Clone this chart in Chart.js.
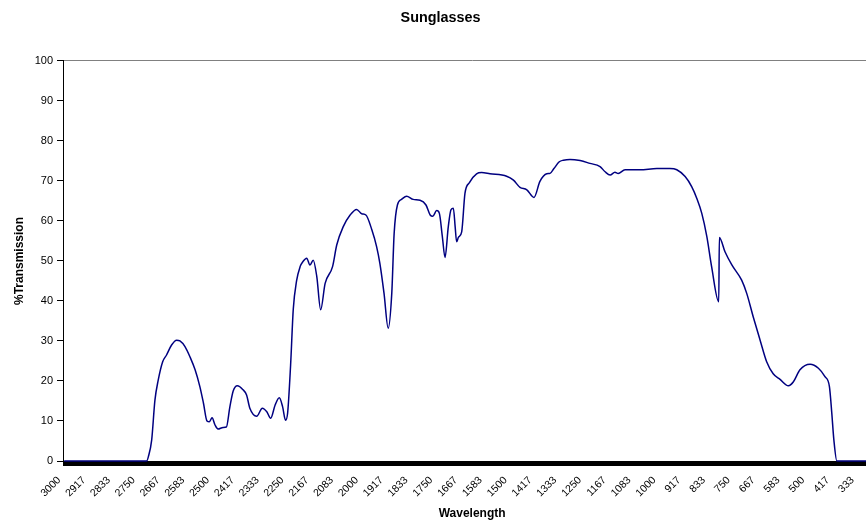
<!DOCTYPE html>
<html>
<head>
<meta charset="utf-8">
<title>Sunglasses</title>
<script src="https://cdn.jsdelivr.net/npm/chart.js@4/dist/chart.umd.min.js"></script>
<style>
  html, body { margin: 0; padding: 0; background: #fff; overflow: hidden; }
  #wrap { width: 886px; height: 524px; }
</style>
</head>
<body>
<div id="wrap"><canvas id="c" width="886" height="524"></canvas></div>
<script>
// Transmission spectrum of a sunglasses lens (wavelength in nm, % transmission)
const wavelength = [
  3000, 2723, 2717, 2706, 2695, 2684, 2669, 2656, 2639, 2622, 2611, 2594, 2577, 2560,
  2544, 2532, 2520, 2512, 2503, 2493, 2483, 2466, 2455, 2443, 2432, 2418, 2400, 2387,
  2376, 2353, 2334, 2319, 2306, 2291, 2277, 2266, 2256, 2249, 2239, 2230, 2219, 2207,
  2198, 2185, 2174, 2163, 2151, 2138, 2123, 2098, 2084, 2062, 2039, 2017, 2000, 1986,
  1966, 1950, 1939, 1925, 1911, 1899, 1891, 1880, 1866, 1849, 1827, 1804, 1784, 1770,
  1761, 1748, 1739, 1729, 1720, 1709, 1700, 1692, 1686, 1681, 1675, 1664, 1653, 1638,
  1614, 1597, 1569, 1513, 1490, 1468, 1445, 1421, 1401, 1378, 1367, 1354, 1336, 1322,
  1300, 1266, 1233, 1199, 1182, 1165, 1149, 1138, 1115, 1065, 1008, 964, 941, 913,
  891, 874, 857, 840, 824, 800, 798, 779, 756, 723, 706, 684, 661, 639,
  617, 594, 566, 549, 527, 493, 465, 443, 428, 420, 413, 403, 258
];
const transmission = [
  0, 0, 1.1, 5.2, 15.2, 20.2, 24.8, 26.5, 29, 30.2, 30, 28.6, 26, 22.8,
  18.6, 14.5, 10, 9.8, 10.8, 9, 8, 8.4, 8.5, 13.6, 17.5, 18.8, 17.9, 16.5,
  13.2, 11.2, 13.2, 12.3, 10.7, 14, 15.8, 13.6, 10.2, 12, 24, 38, 45, 48.6,
  49.8, 50.7, 49, 50.2, 46.1, 37.8, 44.4, 48.6, 54, 58.6, 61.5, 62.9, 61.8, 61.5,
  57.8, 53.6, 49.4, 41.9, 33.2, 41.9, 56.9, 64, 65.4, 66.2, 65.4, 65.2, 64, 61.5,
  61.2, 62.6, 61.9, 56.1, 50.9, 58.6, 62.8, 63.2, 58.6, 54.8, 55.9, 57.3, 66.9, 69.6,
  71.8, 72.1, 71.8, 71.2, 70.2, 68.4, 67.8, 65.9, 69.9, 71.8, 71.9, 73.1, 74.8, 75.2,
  75.4, 75.1, 74.4, 73.6, 72.3, 71.5, 72.2, 71.9, 72.8, 72.8, 73.1, 73.1, 72.8, 71.1,
  68.6, 65.7, 61.9, 56.1, 48.6, 39.8, 55.9, 52.3, 49, 45.2, 41.9, 36, 30.2, 24.8,
  21.8, 20.4, 18.8, 19.8, 22.8, 24.2, 23.2, 21.1, 18.6, 11.9, 5.2, 0, 0
];

// Category-style labels shown every tenth sample step along the wavelength axis
const tickLabels = [
  3000, 2917, 2833, 2750, 2667, 2583, 2500, 2417, 2333, 2250, 2167, 2083, 2000, 1917,
  1833, 1750, 1667, 1583, 1500, 1417, 1333, 1250, 1167, 1083, 1000, 917, 833, 750,
  667, 583, 500, 417, 333
];
const yTicks = [0, 10, 20, 30, 40, 50, 60, 70, 80, 90, 100];

const sampleStep = 25 / 3;   // nm between sample ticks
const labelEvery = 10;       // one label per ten ticks
const startWl = 3000;

const points = wavelength.map((w, i) => ({ x: w, y: transmission[i] }));

const FONT = '"Liberation Sans", Arial, Helvetica, sans-serif';

new Chart(document.getElementById('c'), {
  type: 'line',
  data: {
    datasets: [{
      data: points,
      borderColor: '#000080',
      borderWidth: 1.5,
      pointRadius: 0,
      pointHoverRadius: 0,
      fill: false,
      cubicInterpolationMode: 'monotone',
      clip: false
    }]
  },
  options: {
    responsive: false,
    animation: false,
    devicePixelRatio: 1,
    layout: { padding: { left: 0, right: 4.8, top: 0, bottom: 0 } },
    plugins: {
      legend: { display: false },
      tooltip: { enabled: false },
      title: {
        display: true,
        text: 'Sunglasses',
        color: '#000',
        font: { family: FONT, size: 14.4, weight: 'bold' },
        padding: { top: 9, bottom: 34.7 }
      }
    },
    scales: {
      x: {
        type: 'linear',
        reverse: true,
        min: 254,
        max: 3004,
        afterBuildTicks: (axis) => {
          const t = [];
          for (let k = 0; startWl - k * sampleStep >= axis.min; k++) {
            t.push({ value: startWl - k * sampleStep });
          }
          axis.ticks = t;
        },
        afterFit: (s) => {
          s.height = 63;
          s.paddingLeft = 0;
          s.paddingRight = 0;
        },
        ticks: {
          autoSkip: false,
          minRotation: 45,
          maxRotation: 45,
          padding: 8,
          labelOffset: -5,
          color: '#000',
          font: { family: FONT, size: 10.5 },
          callback: (v, i) => (i % labelEvery === 0 && tickLabels[i / labelEvery] !== undefined)
            ? String(tickLabels[i / labelEvery]) : ''
        },
        grid: {
          drawOnChartArea: false,
          drawTicks: true,
          tickLength: 5,
          tickColor: '#000',
          lineWidth: 3
        },
        border: { display: true, color: '#000', width: 1 },
        title: {
          display: true,
          text: 'Wavelength',
          color: '#000',
          font: { family: FONT, size: 12, weight: 'bold' },
          padding: { top: 0, bottom: 3 }
        }
      },
      y: {
        min: 0,
        max: 100,
        afterBuildTicks: (axis) => { axis.ticks = yTicks.map(v => ({ value: v })); },
        afterFit: (s) => { s.width = 63; },
        ticks: {
          padding: 4,
          color: '#000',
          font: { family: FONT, size: 11 }
        },
        grid: {
          drawOnChartArea: true,
          color: (ctx) => (ctx.tick && ctx.tick.value === 100) ? '#808080' : 'rgba(0,0,0,0)',
          tickColor: '#000',
          tickLength: 6,
          lineWidth: 1
        },
        border: { display: true, color: '#000', width: 1 },
        title: {
          display: true,
          text: '%Transmission',
          color: '#000',
          font: { family: FONT, size: 12, weight: 'bold' },
          padding: { top: 12.4, bottom: 0 }
        }
      }
    }
  }
});
</script>
</body>
</html>
